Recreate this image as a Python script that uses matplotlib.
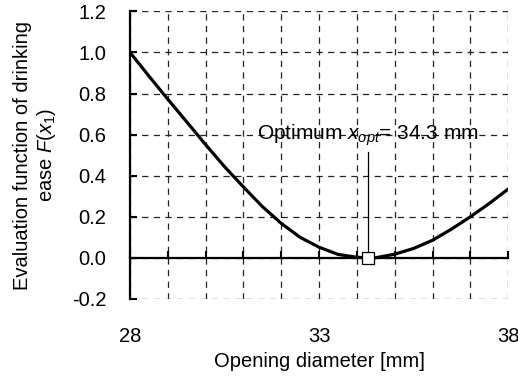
import numpy as np
import matplotlib.pyplot as plt
from matplotlib.ticker import MultipleLocator

plt.rcParams['font.family'] = ['Liberation Sans', 'DejaVu Sans']
plt.rcParams['mathtext.fontset'] = 'custom'
plt.rcParams['mathtext.rm'] = 'Liberation Sans'
plt.rcParams['mathtext.it'] = 'Liberation Sans:italic'
plt.rcParams['axes.unicode_minus'] = False

# values
diameter = [28, 28.5, 29, 29.5, 30, 30.5, 31, 31.5, 32, 32.5, 33, 33.5, 34,
            34.3, 34.5, 35, 35.5, 36, 36.5, 37, 37.5, 38]
ease = [1.0, 0.885, 0.772, 0.662, 0.551, 0.444, 0.345, 0.25, 0.168, 0.10,
        0.052, 0.017, 0.003, 0.0, 0.001, 0.018, 0.046, 0.086, 0.14, 0.2,
        0.265, 0.335]
x_opt = 34.3
x_ticks = [28, 33, 38]
y_ticks = [-0.2, 0.0, 0.2, 0.4, 0.6, 0.8, 1.0, 1.2]

fs = 14.5
fig = plt.figure(figsize=(5.18, 3.78), dpi=100)
ax = fig.add_axes([0.251, 0.209, 0.730, 0.761])

ax.plot(diameter, ease, color='black', lw=2.3, zorder=3, solid_joinstyle='round')

# optimum marker with leader line
ax.plot([x_opt, x_opt], [0.0, 0.515], color='black', lw=0.9, zorder=4)
ax.plot([x_opt], [0.0], marker='s', ms=9, mfc='white', mec='black', mew=0.9, zorder=5)
ax.text(x_opt, 0.575, r'Optimum $x_{opt}$= 34.3 mm', ha='center', va='baseline', fontsize=fs + 0.5)

ax.set_xlim(28, 38)
ax.set_ylim(-0.2, 1.2)
ax.set_xticks(x_ticks)
ax.xaxis.set_minor_locator(MultipleLocator(1))
ax.set_yticks(y_ticks)
ax.set_yticklabels(['%.1f' % v for v in y_ticks])

dash = (0, (5, 4.3))
ax.grid(True, which='both', axis='x', color='#222222', ls=dash, lw=0.9)
ax.grid(True, which='major', axis='y', color='#222222', ls=dash, lw=0.9)
ax.set_axisbelow(True)

# x axis sits at zero, labels stay low
ax.spines['bottom'].set_position(('data', 0))
ax.spines['bottom'].set_linewidth(1.6)
ax.spines['left'].set_linewidth(1.6)
ax.spines['top'].set_visible(False)
ax.spines['right'].set_visible(False)
ax.tick_params(axis='x', which='both', direction='in', length=5, width=1.5,
               labelsize=fs, pad=50)
ax.tick_params(axis='y', direction='in', length=5, width=1.5, labelsize=fs, pad=17)

ax.set_xlabel('Opening diameter [mm]', fontsize=fs, labelpad=4)
ax.set_ylabel('Evaluation function of drinking\nease $F(x_1)$', fontsize=fs,
              labelpad=10, linespacing=1.15)

fig.savefig('out.png', dpi=100)
